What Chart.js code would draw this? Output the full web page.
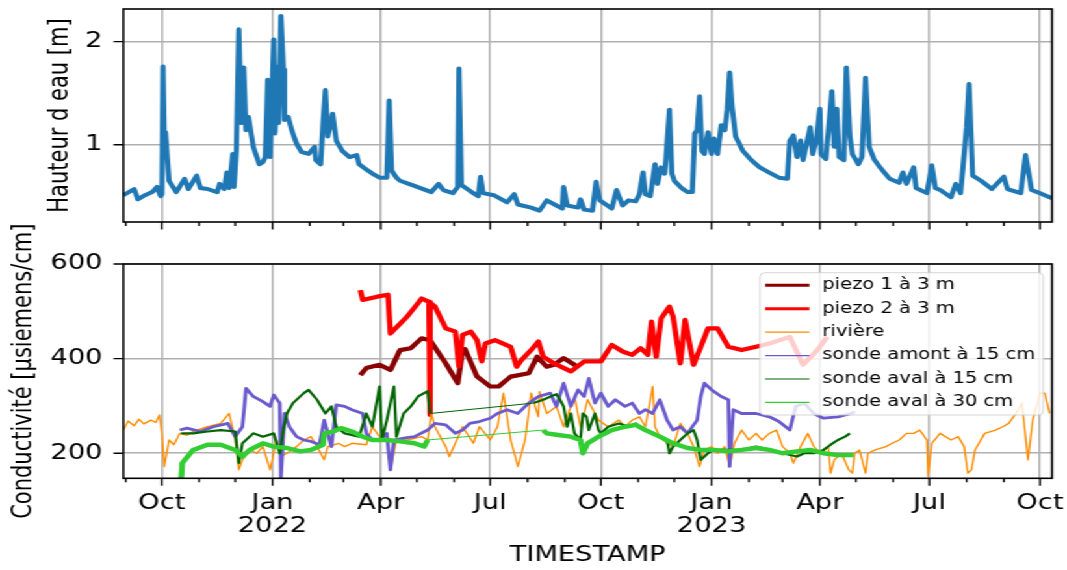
<!DOCTYPE html>
<html>
<head>
<meta charset="utf-8">
<script src="https://cdn.jsdelivr.net/npm/chart.js@4.4.1/dist/chart.umd.min.js"></script>
<style>
  html, body { margin: 0; padding: 0; background: #fff; overflow: hidden; }
  /* the reference figure is stretched horizontally, so draw narrow and stretch */
  #stage { position: relative; width: 821px; height: 570px; transform: scaleX(1.2996); transform-origin: 0 0; }
  #topChart { position: absolute; left: 0; top: 0; }
  #bottomChart { position: absolute; left: 0; top: 200px; }
</style>
</head>
<body>
<div id="stage">
  <canvas id="topChart" width="821" height="240"></canvas>
  <canvas id="bottomChart" width="821" height="370"></canvas>
</div>
<script>
// Axis ticks
const quarterTicks = ['2021-10-01', '2022-01-01', '2022-04-01', '2022-07-01', '2022-10-01',
                      '2023-01-01', '2023-04-01', '2023-07-01', '2023-10-01'];
const quarterLabels = ['Oct', ['Jan', '2022'], 'Apr', 'Jul', 'Oct', ['Jan', '2023'], 'Apr', 'Jul', 'Oct'];
const hauteurTicks = [1, 2];
const conductTicks = [200, 400, 600];

// Hauteur d'eau [m]
const hauteur = [
    ['2021-08-30', 0.51], ['2021-09-08', 0.57], ['2021-09-11', 0.47], ['2021-09-17', 0.51], ['2021-09-23', 0.54],
    ['2021-09-27', 0.59], ['2021-09-30', 0.50], ['2021-10-01', 0.52], ['2021-10-02', 1.76], ['2021-10-03', 1.05],
    ['2021-10-04', 1.12], ['2021-10-07', 0.65], ['2021-10-13', 0.54], ['2021-10-20', 0.67], ['2021-10-23', 0.57],
    ['2021-10-30', 0.70], ['2021-11-02', 0.58], ['2021-11-08', 0.57], ['2021-11-16', 0.54], ['2021-11-18', 0.62],
    ['2021-11-22', 0.57], ['2021-11-24', 0.73], ['2021-11-26', 0.58], ['2021-11-29', 0.91], ['2021-11-30', 0.59],
    ['2021-12-02', 0.95], ['2021-12-04', 2.12], ['2021-12-06', 1.21], ['2021-12-08', 1.75], ['2021-12-10', 1.14],
    ['2021-12-12', 1.27], ['2021-12-16', 0.98], ['2021-12-21', 0.81], ['2021-12-24', 0.83], ['2021-12-26', 0.88],
    ['2021-12-28', 1.63], ['2021-12-30', 0.88], ['2022-01-02', 2.02], ['2022-01-03', 1.11], ['2022-01-05', 1.76],
    ['2022-01-06', 1.21], ['2022-01-08', 2.25], ['2022-01-10', 1.73], ['2022-01-11', 1.24], ['2022-01-14', 1.27],
    ['2022-01-17', 1.14], ['2022-01-21', 1.01], ['2022-01-25', 0.93], ['2022-01-31', 0.91], ['2022-02-05', 0.98],
    ['2022-02-06', 0.85], ['2022-02-10', 0.81], ['2022-02-12', 1.21], ['2022-02-14', 1.53], ['2022-02-16', 1.08],
    ['2022-02-20', 1.30], ['2022-02-23', 1.04], ['2022-02-28', 0.94], ['2022-03-06', 0.88], ['2022-03-12', 0.90],
    ['2022-03-14', 0.81], ['2022-03-20', 0.76], ['2022-03-25', 0.72], ['2022-03-31', 0.68], ['2022-04-06', 0.68],
    ['2022-04-08', 1.43], ['2022-04-10', 0.75], ['2022-04-14', 0.68], ['2022-04-17', 0.65], ['2022-04-29', 0.60],
    ['2022-05-13', 0.54], ['2022-05-19', 0.62], ['2022-05-23', 0.56], ['2022-05-31', 0.53], ['2022-06-04', 0.59],
    ['2022-06-05', 1.74], ['2022-06-07', 0.61], ['2022-06-17', 0.53], ['2022-06-21', 0.50], ['2022-06-23', 0.69],
    ['2022-06-25', 0.53], ['2022-07-04', 0.51], ['2022-07-15', 0.44], ['2022-07-21', 0.52], ['2022-07-24', 0.42],
    ['2022-08-04', 0.39], ['2022-08-11', 0.36], ['2022-08-17', 0.46], ['2022-08-25', 0.41], ['2022-08-30', 0.38],
    ['2022-08-31', 0.59], ['2022-09-03', 0.41], ['2022-09-12', 0.39], ['2022-09-14', 0.47], ['2022-09-17', 0.37],
    ['2022-09-24', 0.36], ['2022-09-27', 0.64], ['2022-09-30', 0.46], ['2022-10-10', 0.38], ['2022-10-14', 0.56],
    ['2022-10-19', 0.41], ['2022-10-24', 0.46], ['2022-10-30', 0.45], ['2022-11-02', 0.52], ['2022-11-05', 0.73],
    ['2022-11-07', 0.52], ['2022-11-11', 0.50], ['2022-11-15', 0.81], ['2022-11-17', 0.62], ['2022-11-20', 0.78],
    ['2022-11-23', 0.72], ['2022-11-24', 0.85], ['2022-11-27', 1.34], ['2022-11-29', 0.72], ['2022-12-01', 0.65],
    ['2022-12-07', 0.58], ['2022-12-12', 0.54], ['2022-12-16', 0.54], ['2022-12-18', 1.11], ['2022-12-20', 1.14],
    ['2022-12-22', 1.47], ['2022-12-24', 0.94], ['2022-12-26', 0.91], ['2022-12-29', 1.12], ['2023-01-01', 0.91],
    ['2023-01-03', 1.06], ['2023-01-06', 0.91], ['2023-01-09', 1.19], ['2023-01-12', 1.14], ['2023-01-14', 1.34],
    ['2023-01-16', 1.70], ['2023-01-18', 1.37], ['2023-01-21', 1.08], ['2023-01-27', 0.94], ['2023-02-03', 0.85],
    ['2023-02-10', 0.78], ['2023-02-18', 0.73], ['2023-02-26', 0.68], ['2023-03-05', 0.67], ['2023-03-07', 1.04],
    ['2023-03-10', 1.09], ['2023-03-13', 0.88], ['2023-03-16', 1.04], ['2023-03-18', 0.85], ['2023-03-21', 1.01],
    ['2023-03-24', 1.17], ['2023-03-26', 0.91], ['2023-03-29', 1.04], ['2023-04-01', 1.35], ['2023-04-02', 0.91],
    ['2023-04-06', 0.86], ['2023-04-11', 1.52], ['2023-04-13', 0.98], ['2023-04-15', 1.35], ['2023-04-17', 0.88],
    ['2023-04-21', 0.85], ['2023-04-23', 1.75], ['2023-04-26', 1.08], ['2023-04-28', 0.91], ['2023-05-03', 0.81],
    ['2023-05-06', 0.88], ['2023-05-09', 1.65], ['2023-05-12', 0.98], ['2023-05-16', 0.86], ['2023-05-21', 0.78],
    ['2023-05-29', 0.67], ['2023-06-06', 0.63], ['2023-06-09', 0.73], ['2023-06-12', 0.62], ['2023-06-18', 0.78],
    ['2023-06-20', 0.58], ['2023-06-29', 0.53], ['2023-07-03', 0.80], ['2023-07-06', 0.58], ['2023-07-10', 0.56],
    ['2023-07-19', 0.49], ['2023-07-23', 0.62], ['2023-07-27', 0.53], ['2023-08-01', 1.17], ['2023-08-03', 1.59],
    ['2023-08-06', 0.70], ['2023-08-13', 0.65], ['2023-08-22', 0.57], ['2023-09-01', 0.69], ['2023-09-04', 0.57],
    ['2023-09-15', 0.53], ['2023-09-19', 0.90], ['2023-09-24', 0.56], ['2023-10-01', 0.53], ['2023-10-09', 0.49],
    ['2023-10-11', 0.48]
];

// Conductivité [µsiemens/cm]
const piezo1 = [
    ['2022-03-15', 365], ['2022-03-20', 380], ['2022-03-31', 387], ['2022-04-09', 376], ['2022-04-17', 418],
    ['2022-04-26', 422], ['2022-05-05', 443], ['2022-05-12', 439], ['2022-05-25', 390], ['2022-06-04', 348],
    ['2022-06-08', 418], ['2022-06-10', 420], ['2022-06-20', 362], ['2022-07-01', 341], ['2022-07-08', 341],
    ['2022-07-18', 362], ['2022-08-02', 369], ['2022-08-09', 404], ['2022-08-17', 383], ['2022-08-23', 387],
    ['2022-08-31', 401], ['2022-09-09', 387], ['2022-09-12', 380]
];
const piezo2 = [
    ['2022-03-15', 545], ['2022-03-17', 524], ['2022-03-29', 531], ['2022-04-07', 535], ['2022-04-09', 453],
    ['2022-04-23', 489], ['2022-05-05', 527], ['2022-05-11', 520], ['2022-05-12', 281], ['2022-05-12', 518],
    ['2022-05-16', 510], ['2022-05-25', 464], ['2022-06-02', 457], ['2022-06-05', 383], ['2022-06-08', 450],
    ['2022-06-15', 457], ['2022-06-20', 439], ['2022-06-24', 394], ['2022-06-27', 432], ['2022-07-05', 439],
    ['2022-07-18', 425], ['2022-07-23', 383], ['2022-07-27', 397], ['2022-08-04', 418], ['2022-08-10', 436],
    ['2022-08-14', 404], ['2022-08-23', 390], ['2022-09-06', 373], ['2022-09-17', 394], ['2022-10-01', 394],
    ['2022-10-10', 429], ['2022-10-19', 415], ['2022-10-27', 408], ['2022-11-03', 422], ['2022-11-09', 408],
    ['2022-11-12', 478], ['2022-11-16', 404], ['2022-11-20', 485], ['2022-11-27', 510], ['2022-11-30', 489],
    ['2022-12-06', 390], ['2022-12-10', 482], ['2022-12-17', 387], ['2022-12-23', 425], ['2022-12-29', 464],
    ['2023-01-06', 464], ['2023-01-15', 425], ['2023-01-26', 418], ['2023-02-07', 425], ['2023-02-18', 432],
    ['2023-03-07', 446], ['2023-03-18', 387], ['2023-03-30', 418], ['2023-04-07', 446]
];
const riviere = [
    ['2021-08-30', 249], ['2021-09-03', 268], ['2021-09-08', 258], ['2021-09-12', 272], ['2021-09-16', 262],
    ['2021-09-22', 270], ['2021-09-26', 265], ['2021-09-29', 281], ['2021-10-01', 245], ['2021-10-03', 172],
    ['2021-10-07', 228], ['2021-10-11', 218], ['2021-10-16', 242], ['2021-10-22', 238], ['2021-10-27', 246],
    ['2021-11-08', 256], ['2021-11-19', 263], ['2021-11-26', 284], ['2021-12-01', 228], ['2021-12-04', 165],
    ['2021-12-07', 186], ['2021-12-13', 207], ['2021-12-19', 200], ['2021-12-24', 214], ['2021-12-30', 165],
    ['2022-01-02', 200], ['2022-01-04', 228], ['2022-01-08', 193], ['2022-01-13', 200], ['2022-01-21', 214],
    ['2022-01-27', 228], ['2022-02-02', 235], ['2022-02-07', 214], ['2022-02-13', 186], ['2022-02-16', 214],
    ['2022-02-25', 221], ['2022-03-02', 214], ['2022-03-08', 221], ['2022-03-20', 218], ['2022-03-25', 256],
    ['2022-03-31', 235], ['2022-04-06', 242], ['2022-04-09', 165], ['2022-04-14', 228], ['2022-04-23', 228],
    ['2022-05-05', 235], ['2022-05-10', 228], ['2022-05-13', 284], ['2022-05-16', 256], ['2022-05-25', 214],
    ['2022-05-28', 193], ['2022-06-02', 221], ['2022-06-08', 256], ['2022-06-17', 221], ['2022-06-22', 256],
    ['2022-07-01', 228], ['2022-07-07', 256], ['2022-07-12', 327], ['2022-07-18', 228], ['2022-07-24', 172],
    ['2022-07-27', 200], ['2022-07-30', 228], ['2022-08-04', 327], ['2022-08-10', 277], ['2022-08-11', 330],
    ['2022-08-17', 284], ['2022-08-25', 299], ['2022-08-31', 256], ['2022-09-09', 320], ['2022-09-14', 256],
    ['2022-09-20', 313], ['2022-09-29', 270], ['2022-10-07', 256], ['2022-10-16', 270], ['2022-10-21', 256],
    ['2022-10-27', 270], ['2022-11-02', 277], ['2022-11-07', 256], ['2022-11-13', 341], ['2022-11-15', 256],
    ['2022-11-19', 235], ['2022-11-25', 221], ['2022-11-30', 214], ['2022-12-06', 263], ['2022-12-12', 242],
    ['2022-12-17', 214], ['2022-12-22', 172], ['2022-12-26', 207], ['2023-01-01', 214], ['2023-01-06', 200],
    ['2023-01-12', 214], ['2023-01-16', 172], ['2023-01-20', 221], ['2023-01-26', 249], ['2023-02-01', 228],
    ['2023-02-07', 242], ['2023-02-12', 228], ['2023-02-18', 242], ['2023-02-24', 249], ['2023-03-01', 214],
    ['2023-03-07', 200], ['2023-03-10', 179], ['2023-03-16', 214], ['2023-03-22', 242], ['2023-03-27', 214],
    ['2023-04-02', 200], ['2023-04-08', 214], ['2023-04-10', 158], ['2023-04-13', 186], ['2023-04-19', 200],
    ['2023-04-25', 165], ['2023-04-28', 158], ['2023-04-30', 200], ['2023-05-04', 207], ['2023-05-09', 158],
    ['2023-05-11', 200], ['2023-05-17', 207], ['2023-05-26', 214], ['2023-05-31', 221], ['2023-06-06', 228],
    ['2023-06-12', 242], ['2023-06-18', 242], ['2023-06-23', 249], ['2023-06-29', 228], ['2023-06-30', 151],
    ['2023-07-03', 221], ['2023-07-10', 242], ['2023-07-19', 228], ['2023-07-25', 235], ['2023-07-30', 214],
    ['2023-08-02', 158], ['2023-08-05', 165], ['2023-08-08', 207], ['2023-08-16', 242], ['2023-08-25', 249],
    ['2023-08-31', 256], ['2023-09-05', 263], ['2023-09-11', 284], ['2023-09-16', 306], ['2023-09-21', 186],
    ['2023-09-25', 270], ['2023-10-01', 327], ['2023-10-05', 327], ['2023-10-09', 284]
];
const sondeAmont15 = [
    ['2021-10-16', 249], ['2021-10-22', 253], ['2021-11-02', 246], ['2021-11-13', 256], ['2021-11-25', 263],
    ['2021-12-01', 235], ['2021-12-07', 256], ['2021-12-10', 337], ['2021-12-16', 320], ['2021-12-24', 309],
    ['2021-12-30', 299], ['2022-01-02', 323], ['2022-01-07', 306], ['2022-01-08', 147], ['2022-01-11', 284],
    ['2022-01-15', 256], ['2022-01-21', 235], ['2022-01-27', 228], ['2022-02-02', 225], ['2022-02-09', 218],
    ['2022-02-13', 270], ['2022-02-19', 214], ['2022-02-23', 302], ['2022-03-02', 299], ['2022-03-08', 292],
    ['2022-03-17', 284], ['2022-03-20', 242], ['2022-03-25', 228], ['2022-03-31', 228], ['2022-04-06', 242],
    ['2022-04-09', 165], ['2022-04-12', 228], ['2022-04-20', 232], ['2022-04-29', 235], ['2022-05-10', 249],
    ['2022-05-16', 263], ['2022-05-25', 260], ['2022-06-02', 242], ['2022-06-08', 249], ['2022-06-14', 263],
    ['2022-06-22', 267], ['2022-07-01', 274], ['2022-07-07', 284], ['2022-07-15', 292], ['2022-07-24', 284],
    ['2022-08-02', 306], ['2022-08-10', 320], ['2022-08-20', 327], ['2022-08-25', 299], ['2022-08-31', 348],
    ['2022-09-06', 299], ['2022-09-12', 334], ['2022-09-17', 320], ['2022-09-21', 358], ['2022-09-26', 306],
    ['2022-10-01', 327], ['2022-10-07', 299], ['2022-10-13', 313], ['2022-10-21', 299], ['2022-10-27', 306],
    ['2022-11-02', 284], ['2022-11-07', 292], ['2022-11-13', 284], ['2022-11-19', 313], ['2022-11-25', 270],
    ['2022-11-30', 249], ['2022-12-06', 256], ['2022-12-12', 242], ['2022-12-20', 270], ['2022-12-23', 320],
    ['2022-12-26', 348], ['2023-01-01', 334], ['2023-01-09', 320], ['2023-01-15', 313], ['2023-01-16', 172],
    ['2023-01-19', 292], ['2023-01-26', 284], ['2023-02-07', 284], ['2023-02-18', 277], ['2023-02-26', 267],
    ['2023-03-07', 249], ['2023-03-12', 299], ['2023-03-19', 306], ['2023-03-27', 284], ['2023-04-04', 274],
    ['2023-04-16', 277], ['2023-04-27', 284], ['2023-04-30', 288]
];
const sondeAval15 = [
    ['2021-10-17', 242], ['2021-10-27', 242], ['2021-11-08', 246], ['2021-11-19', 249], ['2021-12-01', 246],
    ['2021-12-04', 179], ['2021-12-07', 221], ['2021-12-16', 242], ['2021-12-24', 235], ['2022-01-02', 242],
    ['2022-01-07', 200], ['2022-01-10', 249], ['2022-01-13', 284], ['2022-01-18', 306], ['2022-01-27', 327],
    ['2022-01-31', 334], ['2022-02-07', 313], ['2022-02-14', 284], ['2022-02-19', 299], ['2022-02-23', 256],
    ['2022-03-02', 242], ['2022-03-14', 235], ['2022-03-20', 284], ['2022-03-25', 256], ['2022-03-31', 341],
    ['2022-04-02', 228], ['2022-04-06', 270], ['2022-04-12', 341], ['2022-04-14', 235], ['2022-04-20', 284],
    ['2022-04-26', 299], ['2022-05-02', 320], ['2022-05-10', 331], ['2022-05-12', 284], ['2022-08-06', 306],
    ['2022-08-14', 313], ['2022-08-25', 325], ['2022-08-28', 313], ['2022-08-31', 299], ['2022-09-03', 256],
    ['2022-09-06', 284], ['2022-09-09', 242], ['2022-09-14', 228], ['2022-09-16', 284], ['2022-09-19', 277],
    ['2022-09-21', 249], ['2022-09-26', 284], ['2022-09-29', 249], ['2022-10-01', 242], ['2022-10-07', 256],
    ['2022-10-16', 263], ['2022-10-24', 256], ['2022-10-30', 263], ['2022-11-05', 249], ['2022-11-13', 242],
    ['2022-11-19', 235], ['2022-11-25', 228], ['2022-11-27', 200], ['2022-11-30', 214], ['2022-12-06', 228],
    ['2022-12-12', 242], ['2022-12-17', 249], ['2022-12-20', 228], ['2022-12-23', 186], ['2022-12-29', 200],
    ['2023-01-03', 207], ['2023-01-15', 207], ['2023-01-26', 207], ['2023-02-07', 214], ['2023-02-18', 207],
    ['2023-03-01', 200], ['2023-03-13', 193], ['2023-03-19', 200], ['2023-03-27', 200], ['2023-04-04', 207],
    ['2023-04-10', 218], ['2023-04-16', 228], ['2023-04-22', 235], ['2023-04-26', 242]
];
const sondeAval30 = [
    ['2021-10-17', 140], ['2021-10-18', 179], ['2021-10-27', 207], ['2021-11-08', 218], ['2021-11-19', 218],
    ['2021-12-01', 207], ['2021-12-07', 193], ['2021-12-13', 207], ['2021-12-24', 221], ['2022-01-02', 214],
    ['2022-01-13', 211], ['2022-01-24', 204], ['2022-02-02', 207], ['2022-02-12', 218], ['2022-02-13', 242],
    ['2022-02-21', 246], ['2022-02-27', 253], ['2022-03-08', 246], ['2022-03-17', 235], ['2022-03-25', 228],
    ['2022-04-06', 228], ['2022-04-17', 225], ['2022-04-29', 221], ['2022-05-07', 214], ['2022-05-10', 228],
    ['2022-08-14', 249], ['2022-08-17', 242], ['2022-08-25', 239], ['2022-09-06', 235], ['2022-09-14', 228],
    ['2022-09-16', 200], ['2022-09-20', 221], ['2022-09-29', 235], ['2022-10-10', 249], ['2022-10-21', 256],
    ['2022-10-30', 260], ['2022-11-07', 249], ['2022-11-19', 235], ['2022-11-30', 221], ['2022-12-12', 211],
    ['2022-12-23', 207], ['2023-01-03', 207], ['2023-01-15', 204], ['2023-01-26', 207], ['2023-02-07', 211],
    ['2023-02-18', 207], ['2023-03-01', 200], ['2023-03-13', 204], ['2023-03-24', 207], ['2023-04-04', 200],
    ['2023-04-16', 196], ['2023-04-29', 196]
];

const DAY = 86400000;
const toTime = s => Date.parse(s + 'T00:00:00Z');
const toXY = arr => arr.map(([d, v]) => ({ x: toTime(d), y: v }));
const xMin = toTime('2021-08-30');
const xMax = toTime('2023-10-11');
const quarterTimes = quarterTicks.map(toTime);

// a tick at every month start, labels only on the quarters
const monthStarts = [];
for (let i = 0; i < 26; i++) monthStarts.push(Date.UTC(2021, 8 + i, 1));

Chart.defaults.font.family = '"DejaVu Sans", sans-serif';
Chart.defaults.font.size = 21;
Chart.defaults.color = '#000';

// matplotlib style frame + short tick marks
const frameTicks = {
    id: 'frameTicks',
    afterDraw(chart) {
        const { ctx, chartArea: a, scales: { x, y } } = chart;
        ctx.save();
        ctx.strokeStyle = '#000';
        ctx.lineWidth = 1.4;
        ctx.beginPath();
        x.ticks.forEach(tk => {
            const px = x.getPixelForValue(tk.value);
            ctx.moveTo(px, a.bottom);
            ctx.lineTo(px, a.bottom + (tk.q ? 7.5 : 4));
        });
        y.ticks.forEach(tk => {
            const py = y.getPixelForValue(tk.value);
            ctx.moveTo(a.left, py);
            ctx.lineTo(a.left - 7.5, py);
        });
        ctx.stroke();
        ctx.lineWidth = 1.6;
        ctx.strokeRect(a.left, a.top, a.right - a.left, a.bottom - a.top);
        ctx.restore();
    }
};

// legend box drawn inside the plot, upper right
const boxLegend = {
    id: 'boxLegend',
    afterDatasetsDraw(chart, args, opts) {
        if (!opts.show) return;
        const { ctx } = chart;
        const { x, y, w, h, rowH } = opts;
        ctx.save();
        ctx.beginPath();
        ctx.roundRect(x, y, w, h, 4);
        ctx.fillStyle = 'rgba(255,255,255,0.8)';
        ctx.fill();
        ctx.strokeStyle = 'rgba(204,204,204,0.8)';
        ctx.lineWidth = 1;
        ctx.stroke();
        ctx.font = '15px "DejaVu Sans", sans-serif';
        ctx.textBaseline = 'middle';
        chart.data.datasets.forEach((ds, i) => {
            const cy = y + 12.5 + i * rowH;
            ctx.beginPath();
            ctx.moveTo(x + 4, cy);
            ctx.lineTo(x + 38, cy);
            ctx.strokeStyle = ds.borderColor;
            ctx.lineWidth = ds.legendWidth;
            ctx.stroke();
            ctx.fillStyle = '#000';
            ctx.fillText(ds.label, x + 48, cy);
        });
        ctx.restore();
    }
};

function xAxis(showLabels, height) {
    return {
        type: 'linear',
        min: xMin,
        max: xMax,
        afterBuildTicks: s => { s.ticks = monthStarts.map(v => ({ value: v, q: quarterTimes.includes(v) })); },
        afterFit: s => { s.height = height; s.paddingLeft = 0; s.paddingRight = 0; },
        grid: {
            color: c => (c.tick && c.tick.q) ? '#b0b0b0' : 'rgba(0,0,0,0)',
            lineWidth: 1.5,
            drawTicks: false
        },
        border: { display: false },
        ticks: {
            display: showLabels,
            autoSkip: false,
            maxRotation: 0,
            padding: 14,
            font: { lineHeight: 1.1 },
            callback: v => {
                const i = quarterTimes.indexOf(v);
                return i < 0 ? '' : quarterLabels[i];
            }
        },
        title: {
            display: showLabels,
            text: 'TIMESTAMP',
            padding: { top: 0, bottom: 1.5 }
        }
    };
}

function yAxis(min, max, tickValues, title, titlePad) {
    return {
        min: min,
        max: max,
        afterBuildTicks: s => { s.ticks = tickValues.map(v => ({ value: v })); },
        afterFit: s => { s.width = 94.9; s.paddingTop = 0; s.paddingBottom = 0; },
        grid: { color: '#b0b0b0', lineWidth: 1.5, drawTicks: false },
        border: { display: false },
        ticks: { padding: 16 },
        title: { display: true, text: title, padding: { top: titlePad, bottom: 0 } }
    };
}

const common = {
    responsive: false,
    animation: false,
    events: [],
    elements: { point: { radius: 0 }, line: { tension: 0, borderJoinStyle: 'round' } },
    plugins: { legend: { display: false }, tooltip: { enabled: false } }
};

// Hauteur d'eau
new Chart(document.getElementById('topChart'), {
    type: 'line',
    data: {
        datasets: [{
            label: 'Hauteur d eau',
            data: toXY(hauteur),
            borderColor: '#1f77b4',
            borderWidth: 4
        }]
    },
    options: {
        ...common,
        layout: { padding: { top: 9, right: 11.5, left: 0, bottom: 0 } },
        scales: {
            x: xAxis(false, 18),
            y: yAxis(0.25, 2.317, hauteurTicks, 'Hauteur d eau [m]', 34)
        }
    },
    plugins: [frameTicks]
});

// Conductivité
const thinGaps = { borderWidth: c => (c.p1.parsed.x - c.p0.parsed.x > 20 * DAY) ? 1 : undefined };
new Chart(document.getElementById('bottomChart'), {
    type: 'line',
    data: {
        datasets: [
            { label: 'piezo 1 à 3 m', data: toXY(piezo1), borderColor: '#8b0000', borderWidth: 4.2, legendWidth: 3, order: 5 },
            { label: 'piezo 2 à 3 m', data: toXY(piezo2), borderColor: '#ff0000', borderWidth: 4.2, legendWidth: 3, order: 4 },
            { label: 'rivière', data: toXY(riviere), borderColor: '#ff8c00', borderWidth: 1.4, legendWidth: 1.2, order: 3 },
            { label: 'sonde amont à 15 cm', data: toXY(sondeAmont15), borderColor: '#6a5acd', borderWidth: 2.8, legendWidth: 1.2, order: 2, segment: thinGaps },
            { label: 'sonde aval à 15 cm', data: toXY(sondeAval15), borderColor: '#006400', borderWidth: 2.2, legendWidth: 1.2, order: 1, segment: thinGaps },
            { label: 'sonde aval à 30 cm', data: toXY(sondeAval30), borderColor: '#32cd32', borderWidth: 4.4, legendWidth: 1.2, order: 0, segment: thinGaps }
        ]
    },
    options: {
        ...common,
        layout: { padding: { top: 64, right: 11.5, left: 0, bottom: 0 } },
        plugins: {
            ...common.plugins,
            boxLegend: { show: true, x: 584.8, y: 72.7, w: 218, h: 142.3, rowH: 23.45 }
        },
        scales: {
            x: xAxis(true, 91.7),
            y: yAxis(147, 600, conductTicks, 'Conductivité [µsiemens/cm]', 6)
        }
    },
    plugins: [frameTicks, boxLegend]
});
</script>
</body>
</html>
